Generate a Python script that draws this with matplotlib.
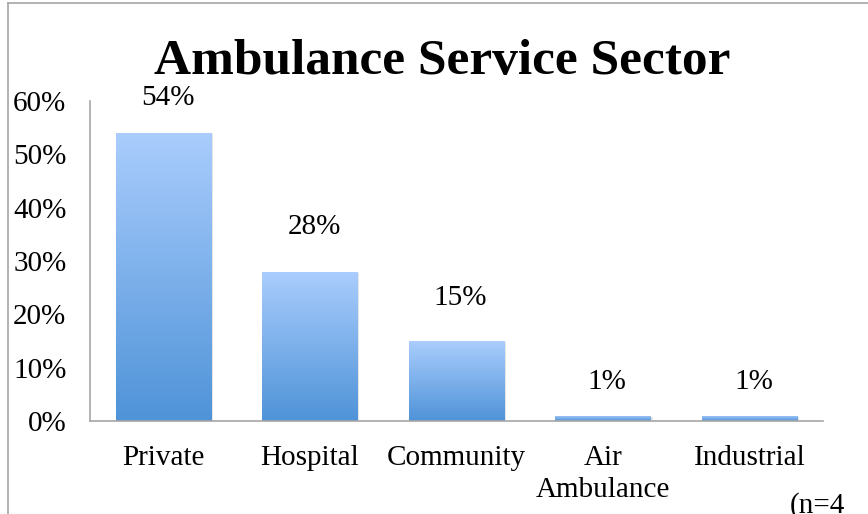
import matplotlib
matplotlib.use("Agg")
import matplotlib.pyplot as plt
import numpy as np
from matplotlib.colors import LinearSegmentedColormap
from matplotlib.lines import Line2D

# Datos del gráfico
categorias = ["Private", "Hospital", "Community", "Air\nAmbulance", "Industrial"]
valores = [0.54, 0.28, 0.15, 0.01, 0.01]
etiquetas = ["54%", "28%", "15%", "1%", "1%"]
ticks_y = [0.0, 0.1, 0.2, 0.3, 0.4, 0.5, 0.6]
ticks_y_txt = ["0%", "10%", "20%", "30%", "40%", "50%", "60%"]

# separación vertical de cada etiqueta sobre su barra (puntos)
desplaz = [25, 32, 31, 24, 24]

FUENTE = "Liberation Serif"
GRIS = "#a6a6a6"

fig = plt.figure(figsize=(8.68, 5.14), dpi=100)
ax = fig.add_axes([90 / 868, 1 - 421 / 514, 733 / 868, 320 / 514])

x = np.arange(len(categorias))
barras = ax.bar(x, valores, width=0.65, color="none", edgecolor="none", zorder=2)

# Degradado vertical dentro de cada barra
cmap = LinearSegmentedColormap.from_list("azul", ["#4f93d8", "#aacdfd"])
grad = np.linspace(0, 1, 256).reshape(-1, 1)
for b in barras:
    x0, w, h = b.get_x(), b.get_width(), b.get_height()
    # sombra suave
    ax.bar(x0 + w / 2 + 0.012, h, width=w, bottom=-0.002, color="#000000",
           alpha=0.10, zorder=1.5, edgecolor="none")
    im = ax.imshow(grad, cmap=cmap, origin="lower", aspect="auto",
                   extent=(x0, x0 + w, 0, h), zorder=2)
    im.set_clip_path(b)

for xi, v, t, d in zip(x, valores, etiquetas, desplaz):
    ax.annotate(t, (xi, v), xytext=(3, d), textcoords="offset points",
                ha="center", va="center", fontsize=21, family=FUENTE)

ax.set_xlim(-0.5, len(categorias) - 0.5)
ax.set_ylim(0, 0.6)
ax.set_yticks(ticks_y)
ax.set_yticklabels(ticks_y_txt, fontsize=21, family=FUENTE)
ax.set_xticks(x)
ax.set_xticklabels(categorias, fontsize=21, family=FUENTE, linespacing=1.3)
ax.tick_params(axis="y", length=0, pad=17)
ax.tick_params(axis="x", length=0, pad=17)

for lado in ["top", "right"]:
    ax.spines[lado].set_visible(False)
ax.spines["left"].set_color(GRIS)
ax.spines["bottom"].set_color(GRIS)
ax.spines["left"].set_linewidth(1.2)
ax.spines["bottom"].set_linewidth(1.2)

fig.text(442 / 868, 1 - 62 / 514, "Ambulance Service Sector", ha="center",
         va="center", fontsize=37, fontweight="bold", family=FUENTE)

fig.text(790 / 868, 1 - 506 / 514, "(n=4", ha="left", va="center",
         fontsize=21, family=FUENTE)

# Borde del recuadro del gráfico
fig.add_artist(Line2D([8 / 868, 8 / 868], [0, 1 - 3 / 514], transform=fig.transFigure,
                      color=GRIS, lw=1.2))
fig.add_artist(Line2D([8 / 868, 1], [1 - 3 / 514, 1 - 3 / 514], transform=fig.transFigure,
                      color=GRIS, lw=1.2))

fig.savefig("out.png", dpi=100)
